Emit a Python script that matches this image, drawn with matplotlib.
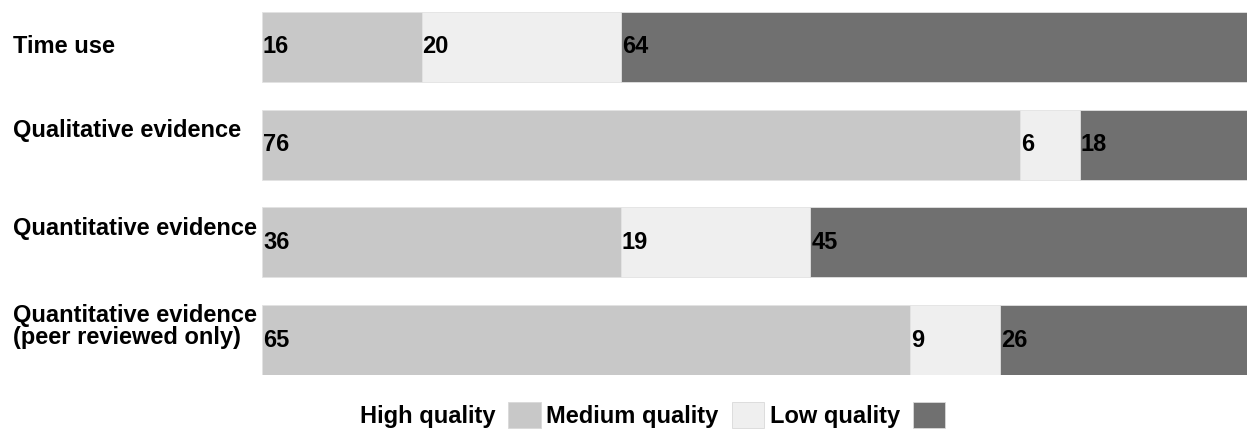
import matplotlib.pyplot as plt
import numpy as np
from matplotlib.patches import Patch
import matplotlib

matplotlib.rcParams['font.family'] = ['Liberation Sans', 'DejaVu Sans']
matplotlib.rcParams['font.weight'] = 'bold'

categories = ['Time use', 'Qualitative evidence', 'Quantitative evidence',
              'Quantitative evidence\n(peer reviewed only)']
high = [16, 76, 36, 65]
medium = [20, 6, 19, 9]
low = [64, 18, 45, 26]
series_names = ['High quality', 'Medium quality', 'Low quality']
colors = ['#c8c8c8', '#efefef', '#707070']

fig = plt.figure(figsize=(12.47, 4.29), dpi=100)
# bars run past the right edge of the image, like the reference
ax = fig.add_axes([262 / 1247, 1 - 375 / 429, 997 / 1247, 363 / 429])

y = np.arange(len(categories))
h = 70 / 97.7
left = np.zeros(len(categories))
for vals, c in zip([high, medium, low], colors):
    ax.barh(y, vals, left=left, height=h, color=c, edgecolor='#e2e2e2', linewidth=0.6)
    for yi, (l, v) in enumerate(zip(left, vals)):
        ax.text(l + 0.1, yi, str(v), ha='left', va='center', fontsize=17,
                fontweight='bold', color='black')
    left += np.array(vals)

ax.set_xlim(0, 100)
ax.set_ylim(len(categories) - 1 + h / 2, -h / 2)
ax.axis('off')

# category labels sit a bit above the bar centre (except the first)
offsets = [0, -0.145, -0.145, -0.14]
for yi, (cat, off) in enumerate(zip(categories, offsets)):
    ax.text(-249 / 997, yi + off, cat, transform=ax.get_yaxis_transform(),
            ha='left', va='center', fontsize=17, fontweight='bold',
            linespacing=0.95)

handles = [Patch(facecolor=c, edgecolor='#d9d9d9', linewidth=0.6) for c in colors]
fig.legend(handles, series_names, loc='center left', ncol=3, frameon=False,
           markerfirst=False, fontsize=17, handlelength=1.36, handleheight=1.3,
           handletextpad=0.55, columnspacing=0.25, borderaxespad=0, borderpad=0,
           bbox_to_anchor=(360 / 1247, 1 - 415 / 429))

fig.savefig('out.png', dpi=100)
